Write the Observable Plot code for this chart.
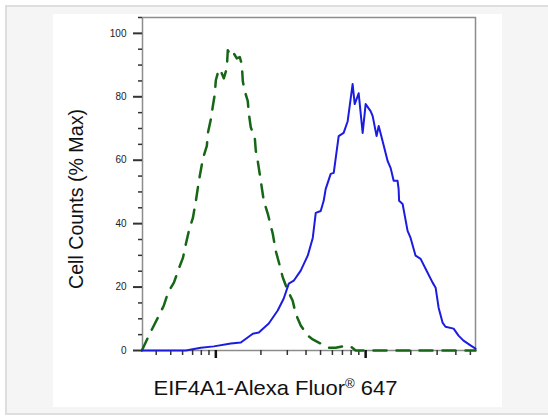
<!DOCTYPE html>
<html><head><meta charset="utf-8">
<script src="https://cdn.jsdelivr.net/npm/d3@7"></script>
<script src="https://cdn.jsdelivr.net/npm/@observablehq/plot@0.6"></script>
<style>
html,body{margin:0;padding:0;background:#fff;}
#outer{position:absolute;left:5px;top:5px;width:600px;height:406px;border:2px solid #dedede;border-right:none;background:#f5f5f5;}
#panel{position:absolute;left:53px;top:14px;width:449px;height:393px;background:#fff;}
#panel svg{display:block;}
</style></head><body>
<div id="outer"></div>
<div id="panel"></div>
<script>
// Isotype control (green dashed)
const controlX = [321,357,386,417,450,479,525,566,603,631,661,703,736,771,819,871,885,927,955,984,1000,1047,1080,1130,1184,1202,1259,1318,1380,1445,1490,1514,1560,1634,1660,1711,1820,1849,1905,1995,2089,2223,2328,2399,2512,2673,2799,3020,3258,3412,3687,4105,4436,4864,5664,6310,7031,7943,8577,10000,54100];
const controlY = [0,4.7,7.9,11.0,14.2,18.2,21.4,25.8,29.2,33.6,37.7,41.8,47.2,53.5,60.4,64.5,68.6,73.0,77.0,80.8,85.2,88.7,88.1,85.8,89.0,94.7,92.8,93.7,92.1,92.5,90.3,84.9,81.8,78.6,74.8,70.4,67.0,62.9,59.7,53.5,47.2,43.1,39.3,36.8,31.4,26.7,23.0,18.9,15.7,11.6,7.9,4.7,3.5,2.5,0.9,0.9,1.3,1.3,0,0,0];
// EIF4A1 (blue solid)
const eifX = [321,631,794,970,1259,1468,1765,1936,2256,2588,2840,3069,3311,3687,4105,4436,4645,5012,5248,5408,5843,6124,6607,7129,7586,8185,8453,8983,9550,10000,10790,11140,11830,12220,12980,14030,14690,15380,16330,16600,16720,17650,19050,19950,21540,23280,25120,27990,29310,30690,32610,34120,38640,41690,45000,50120,54100];
const eifY = [0,0,0.9,1.3,2.2,2.5,5.3,5.7,8.5,12.6,16.4,21.1,22.0,25.2,29.9,35.5,43.4,44.0,47.2,50.9,55.7,56.0,67.6,68.6,72.3,84.0,77.7,81.1,68.6,77.7,75.5,73.9,67.6,70.8,66.0,59.7,57.5,53.5,53.5,50.9,47.2,46.2,37.7,35.5,29.9,28.9,25.8,21.4,19.8,13.5,8.8,7.5,6.9,4.7,3.1,1.6,0.6];

const yMajorTicks = [0,20,40,60,80,100];
const yMinorTicks = [5,10,15,25,30,35,45,50,55,65,70,75,85,90,95,105];
const xMajorTicks = [1000,10000];
const xMinorTicks = [400,500,600,700,800,900,2000,3000,4000,5000,6000,7000,8000,9000,20000,30000,40000,50000];
const xLabelMain = "EIF4A1-Alexa Fluor";
const xLabelSup = "®";
const xLabelEnd = " 647";
const yLabel = "Cell Counts (% Max)";

const control = controlX.map((x,i)=>({x, y: controlY[i]}));
const eif = eifX.map((x,i)=>({x, y: eifY[i]}));
const font = "'Liberation Sans', Arial, sans-serif";

const svg = Plot.plot({
  width: 449, height: 393,
  marginLeft: 89, marginRight: 27, marginTop: 3, marginBottom: 57,
  x: {type: "log", domain: [324, 54100]},
  y: {domain: [0, 105]},
  style: {fontFamily: font, background: "transparent", color: "#222"},
  marks: [
    Plot.frame({stroke: "#8c8c8c", strokeWidth: 1.5}),
    Plot.axisY(yMinorTicks, {tickSize: 4, strokeWidth: 1.5, stroke: "#333", tickFormat: () => "", label: null}),
    Plot.axisY(yMajorTicks, {tickSize: 9, strokeWidth: 2, stroke: "#333", tickPadding: 7, fontSize: 10, label: null, tickFormat: d => String(d)}),
    Plot.axisX(xMinorTicks, {tickSize: 5, strokeWidth: 1.5, stroke: "#333", tickFormat: () => "", label: null}),
    Plot.axisX(xMajorTicks, {tickSize: 8, strokeWidth: 2.5, stroke: "#111", tickFormat: () => "", label: null}),
    Plot.line(control, {x: "x", y: "y", stroke: "#176617", strokeWidth: 2.5, strokeDasharray: "13,10", curve: "linear"}),
    Plot.line(eif, {x: "x", y: "y", stroke: "#1c1ce0", strokeWidth: 2, curve: "linear"})
  ]
});
document.getElementById("panel").appendChild(svg);

const sel = d3.select(svg);
sel.append("text")
  .attr("transform", "translate(30,185) rotate(-90)")
  .attr("text-anchor", "middle")
  .attr("font-size", 20)
  .attr("fill", "#111")
  .attr("font-family", font)
  .attr("textLength", 180)
  .attr("lengthAdjust", "spacingAndGlyphs")
  .text(yLabel);

const t = sel.append("text")
  .attr("x", 0).attr("y", 0)
  .attr("font-size", 20)
  .attr("fill", "#111")
  .attr("font-family", font);
t.append("tspan").text(xLabelMain);
t.append("tspan").attr("font-size", 12).attr("dy", -7).text(xLabelSup);
t.append("tspan").attr("dy", 7).text(xLabelEnd);
// stretch to the reference's width, centred
const bb = t.node().getBBox();
const targetW = 244, cx = 222.5;
const s = bb.width > 0 ? targetW / bb.width : 1;
t.attr("transform", `translate(${cx - (bb.x + bb.width / 2) * s},381) scale(${s},1)`);
</script>
</body></html>
